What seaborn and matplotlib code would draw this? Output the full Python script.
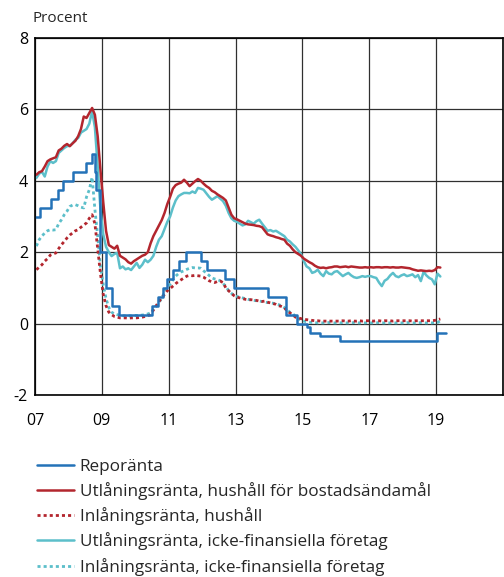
import numpy as np
import pandas as pd
import matplotlib
matplotlib.use("Agg")
import matplotlib.pyplot as plt
import seaborn as sns

# ── Data (monthly, Jan 2007 - Feb 2019, per cent) ────────────────────────────
start_month = "2007-01"
n_months = 146

utl_hushall = [
    4.17, 4.24, 4.27, 4.40, 4.55, 4.60, 4.63, 4.66, 4.85, 4.90, 4.98, 5.03,  # 2007
    4.97, 5.05, 5.12, 5.25, 5.45, 5.80, 5.76, 5.90, 6.04, 5.85, 5.25, 4.30,  # 2008
    3.40, 2.60, 2.20, 2.15, 2.10, 2.18, 1.90, 1.85, 1.80, 1.72, 1.68, 1.75,  # 2009
    1.80, 1.85, 1.90, 1.93, 2.00, 2.25, 2.45, 2.60, 2.75, 2.90, 3.10, 3.35,  # 2010
    3.55, 3.78, 3.88, 3.92, 3.95, 4.03, 3.95, 3.85, 3.92, 3.99, 4.05, 4.00,  # 2011
    3.92, 3.85, 3.80, 3.72, 3.68, 3.62, 3.57, 3.52, 3.45, 3.25, 3.05, 2.95,  # 2012
    2.92, 2.88, 2.84, 2.80, 2.78, 2.77, 2.76, 2.74, 2.73, 2.70, 2.60, 2.50,  # 2013
    2.47, 2.45, 2.42, 2.40, 2.37, 2.35, 2.24, 2.18, 2.08, 2.00, 1.95, 1.90,  # 2014
    1.82, 1.77, 1.72, 1.68, 1.62, 1.58, 1.56, 1.57, 1.55, 1.57, 1.58, 1.60,  # 2015
    1.60, 1.58, 1.59, 1.60, 1.58, 1.60, 1.59, 1.58, 1.57, 1.57, 1.58, 1.57,  # 2016
    1.58, 1.57, 1.58, 1.58, 1.57, 1.58, 1.58, 1.57, 1.58, 1.57, 1.57, 1.58,  # 2017
    1.57, 1.56, 1.55, 1.52, 1.50, 1.48, 1.49, 1.48, 1.47, 1.48, 1.47, 1.50,  # 2018
    1.58, 1.57,                                                              # 2019
]

inl_hushall = [
    1.51, 1.58, 1.65, 1.75, 1.82, 1.92, 1.95, 1.98, 2.10, 2.21, 2.30, 2.40,  # 2007
    2.48, 2.54, 2.60, 2.63, 2.70, 2.76, 2.82, 2.95, 3.05, 2.80, 2.10, 1.40,  # 2008
    0.82, 0.50, 0.32, 0.25, 0.20, 0.18, 0.16, 0.16, 0.16, 0.15, 0.16, 0.16,  # 2009
    0.16, 0.17, 0.18, 0.20, 0.22, 0.25, 0.38, 0.50, 0.62, 0.72, 0.82, 0.92,  # 2010
    0.98, 1.05, 1.12, 1.18, 1.23, 1.28, 1.33, 1.35, 1.34, 1.35, 1.34, 1.33,  # 2011
    1.30, 1.25, 1.20, 1.17, 1.15, 1.18, 1.19, 1.15, 1.00, 0.92, 0.85, 0.78,  # 2012
    0.74, 0.72, 0.70, 0.68, 0.67, 0.67, 0.66, 0.65, 0.63, 0.62, 0.63, 0.60,  # 2013
    0.58, 0.56, 0.54, 0.50, 0.48, 0.45, 0.35, 0.30, 0.25, 0.18, 0.16, 0.14,  # 2014
    0.12, 0.11, 0.10, 0.09, 0.08, 0.08, 0.07, 0.07, 0.07, 0.07, 0.07, 0.07,  # 2015
    0.07, 0.07, 0.08, 0.07, 0.07, 0.08, 0.07, 0.07, 0.08, 0.07, 0.08, 0.08,  # 2016
    0.08, 0.07, 0.08, 0.08, 0.07, 0.08, 0.08, 0.08, 0.07, 0.08, 0.08, 0.08,  # 2017
    0.08, 0.08, 0.08, 0.07, 0.08, 0.08, 0.08, 0.08, 0.08, 0.08, 0.08, 0.09,  # 2018
    0.11, 0.13,                                                              # 2019
]

utl_foretag = [
    4.08, 4.20, 4.25, 4.12, 4.40, 4.55, 4.50, 4.55, 4.78, 4.85, 4.92, 4.97,  # 2007
    4.98, 5.05, 5.15, 5.20, 5.35, 5.40, 5.45, 5.60, 5.95, 5.50, 4.40, 3.20,  # 2008
    2.50, 2.15, 2.00, 1.89, 1.95, 1.98, 1.55, 1.60, 1.52, 1.55, 1.50, 1.60,  # 2009
    1.70, 1.56, 1.65, 1.79, 1.72, 1.79, 1.90, 2.15, 2.35, 2.45, 2.65, 2.85,  # 2010
    3.00, 3.25, 3.45, 3.57, 3.62, 3.66, 3.66, 3.65, 3.70, 3.66, 3.80, 3.78,  # 2011
    3.75, 3.65, 3.55, 3.47, 3.52, 3.57, 3.50, 3.43, 3.30, 3.10, 2.95, 2.88,  # 2012
    2.85, 2.80, 2.75, 2.78, 2.88, 2.84, 2.80, 2.87, 2.91, 2.80, 2.70, 2.60,  # 2013
    2.62, 2.58, 2.60, 2.55, 2.50, 2.45, 2.35, 2.30, 2.22, 2.15, 2.05, 1.95,  # 2014
    1.75, 1.60, 1.55, 1.42, 1.45, 1.51, 1.40, 1.33, 1.47, 1.40, 1.38, 1.45,  # 2015
    1.47, 1.40, 1.33, 1.38, 1.42, 1.35, 1.30, 1.28, 1.30, 1.33, 1.31, 1.33,  # 2016
    1.33, 1.30, 1.28, 1.15, 1.05, 1.20, 1.25, 1.35, 1.42, 1.33, 1.30, 1.35,  # 2017
    1.38, 1.33, 1.35, 1.38, 1.30, 1.36, 1.19, 1.45, 1.35, 1.28, 1.24, 1.10,  # 2018
    1.40, 1.32,                                                              # 2019
]

inl_foretag = [
    2.17, 2.35, 2.45, 2.54, 2.60, 2.63, 2.62, 2.63, 2.80, 2.91, 3.05, 3.15,  # 2007
    3.28, 3.32, 3.33, 3.30, 3.26, 3.24, 3.55, 3.75, 4.10, 3.20, 2.45, 1.60,  # 2008
    1.10, 0.70, 0.45, 0.32, 0.27, 0.25, 0.23, 0.22, 0.22, 0.22, 0.22, 0.23,  # 2009
    0.23, 0.23, 0.24, 0.25, 0.27, 0.30, 0.40, 0.48, 0.58, 0.72, 0.88, 1.02,  # 2010
    1.10, 1.22, 1.33, 1.40, 1.45, 1.48, 1.52, 1.55, 1.57, 1.56, 1.56, 1.55,  # 2011
    1.48, 1.42, 1.35, 1.28, 1.25, 1.23, 1.20, 1.12, 1.05, 0.92, 0.85, 0.78,  # 2012
    0.76, 0.74, 0.72, 0.70, 0.68, 0.66, 0.65, 0.64, 0.63, 0.62, 0.60, 0.59,  # 2013
    0.58, 0.57, 0.55, 0.53, 0.50, 0.45, 0.38, 0.32, 0.28, 0.20, 0.14, 0.10,  # 2014
    0.07, 0.05, 0.04, 0.03, 0.03, 0.02, 0.02, 0.02, 0.02, 0.03, 0.02, 0.02,  # 2015
    0.02, 0.02, 0.03, 0.02, 0.02, 0.02, 0.03, 0.02, 0.02, 0.02, 0.02, 0.03,  # 2016
    0.02, 0.02, 0.02, 0.03, 0.02, 0.02, 0.02, 0.02, 0.03, 0.02, 0.02, 0.02,  # 2017
    0.02, 0.03, 0.02, 0.02, 0.02, 0.02, 0.03, 0.02, 0.02, 0.02, 0.02, 0.03,  # 2018
    0.03, 0.08,                                                              # 2019
]

# Reporänta: effective dates of changes and new level
repo_dates = [
    "2007-01-01", "2007-02-21", "2007-06-27", "2007-09-12", "2007-10-31",
    "2008-02-20", "2008-07-09", "2008-09-10", "2008-10-15", "2008-10-29",
    "2008-12-10", "2009-02-18", "2009-04-22", "2009-07-08", "2010-07-07",
    "2010-09-07", "2010-10-27", "2010-12-15", "2011-02-16", "2011-04-27",
    "2011-07-06", "2011-12-21", "2012-02-22", "2012-09-12", "2012-12-19",
    "2013-12-18", "2014-07-09", "2014-10-29", "2015-02-18", "2015-03-25",
    "2015-07-08", "2016-02-17", "2019-01-09", "2019-04-15",
]
repo_rates = [
    3.00, 3.25, 3.50, 3.75, 4.00,
    4.25, 4.50, 4.75, 4.25, 3.75,
    2.00, 1.00, 0.50, 0.25, 0.50,
    0.75, 1.00, 1.25, 1.50, 1.75,
    2.00, 1.75, 1.50, 1.25, 1.00,
    0.75, 0.25, 0.00, -0.10, -0.25,
    -0.35, -0.50, -0.25, -0.25,
]

labels = [
    "Reporänta",
    "Utlåningsränta, hushåll för bostadsändamål",
    "Inlåningsränta, hushåll",
    "Utlåningsränta, icke-finansiella företag",
    "Inlåningsränta, icke-finansiella företag",
]
year_ticks = [2007, 2009, 2011, 2013, 2015, 2017, 2019, 2021]
year_labels = ["07", "09", "11", "13", "15", "17", "19", ""]

BLUE = "#2472B8"
RED = "#B3262E"
CYAN = "#5CBFCA"


def to_year(dates):
    d = pd.to_datetime(pd.Series(dates))
    return (d.dt.year + (d.dt.dayofyear - 1) / 365.0).to_numpy()


months = pd.period_range(start_month, periods=n_months, freq="M")
t = np.array([p.year + (p.month - 0.5) / 12 for p in months])
monthly = pd.DataFrame({
    "t": t,
    "utl_hushall": utl_hushall,
    "inl_hushall": inl_hushall,
    "utl_foretag": utl_foretag,
    "inl_foretag": inl_foretag,
})
repo = pd.DataFrame({"t": to_year(repo_dates), "rate": repo_rates})

# ── Plot ─────────────────────────────────────────────────────────────────────
sns.set_style("white")
plt.rcParams["font.family"] = ["Open Sans", "DejaVu Sans"]

fig = plt.figure(figsize=(5.04, 5.77), dpi=100)
ax = fig.add_axes([35 / 504, 1 - 395 / 577, 468 / 504, 357 / 577])

lw = 1.8
dots = (0, (1.1, 1.1))
sns.lineplot(data=monthly, x="t", y="inl_foretag", color=CYAN, lw=2.0,
             linestyle=dots, ax=ax, label=labels[4])
sns.lineplot(data=monthly, x="t", y="utl_foretag", color=CYAN, lw=lw,
             ax=ax, label=labels[3])
sns.lineplot(data=monthly, x="t", y="inl_hushall", color=RED, lw=2.0,
             linestyle=dots, ax=ax, label=labels[2])
sns.lineplot(data=monthly, x="t", y="utl_hushall", color=RED, lw=lw,
             ax=ax, label=labels[1])
sns.lineplot(data=repo, x="t", y="rate", color=BLUE, lw=lw,
             drawstyle="steps-post", ax=ax, label=labels[0])

ax.set_xlim(2007, 2021)
ax.set_ylim(-2, 8)
ax.set_xticks(year_ticks)
ax.set_xticklabels(year_labels)
ax.set_yticks([-2, 0, 2, 4, 6, 8])
ax.set_yticklabels(["-2", "0", "2", "4", "6", "8"])
ax.set_xlabel("")
ax.set_ylabel("")
ax.grid(True, color="#303030", lw=0.9)
ax.tick_params(length=0, labelsize=11.5, colors="black")
ax.tick_params(axis="x", pad=13)
ax.tick_params(axis="y", pad=5)
for s in ax.spines.values():
    s.set_color("black")
    s.set_linewidth(1.2)

fig.text(33 / 504, 1 - 22 / 577, "Procent", fontsize=11, va="baseline", ha="left")

handles, labs = ax.get_legend_handles_labels()
order = [labs.index(l) for l in labels]
ax.get_legend().remove()
fig.legend([handles[i] for i in order], labels, loc="upper left",
           bbox_to_anchor=(37 / 504, 1 - 459 / 577), frameon=False,
           fontsize=12.3, handlelength=2.15, handletextpad=0.35,
           labelspacing=0.42, borderpad=0, borderaxespad=0)

fig.savefig("out.png", dpi=100)
